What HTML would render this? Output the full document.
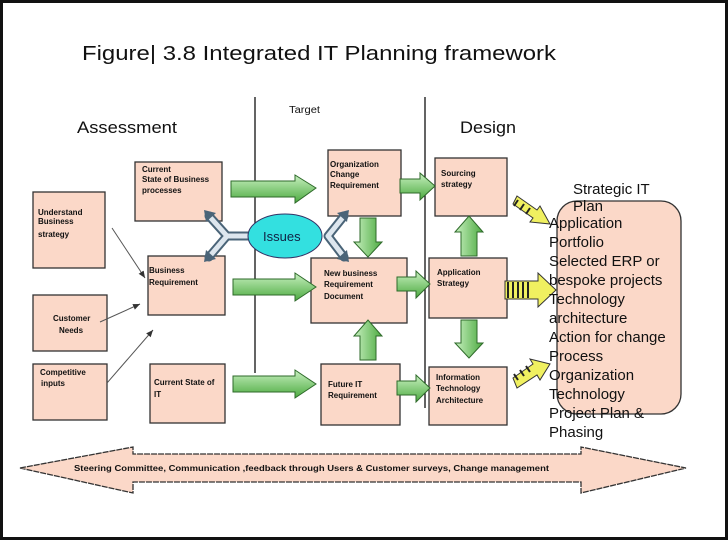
<!DOCTYPE html>
<html><head><meta charset="utf-8"><style>
html,body{margin:0;padding:0;background:#fff;}
svg{display:block;}
text{font-family:"Liberation Sans",sans-serif;}
.s{font-size:8px;font-weight:bold;fill:#111;}
.L{font-size:15px;fill:#111;}
</style></head><body>
<svg width="728" height="546" viewBox="0 0 728 546" xmlns="http://www.w3.org/2000/svg">
<defs>
<linearGradient id="g" x1="0" y1="0" x2="0" y2="1"><stop offset="0" stop-color="#c8f0c0"/><stop offset="1" stop-color="#4caa40"/></linearGradient>
<linearGradient id="gv" x1="0" y1="0" x2="1" y2="0"><stop offset="0" stop-color="#c8f0c0"/><stop offset="1" stop-color="#4caa40"/></linearGradient>
<linearGradient id="gr" x1="0" y1="0" x2="1" y2="0"><stop offset="0" stop-color="#e8eef4"/><stop offset="1" stop-color="#5a7890"/></linearGradient>
<marker id="ah" markerWidth="8" markerHeight="8" refX="7" refY="4" orient="auto"><path d="M0,1 L7,4 L0,7z" fill="#333"/></marker>
</defs>
<rect x="0" y="0" width="728" height="546" fill="#fff"/>
<rect x="1.5" y="1.5" width="725" height="537" fill="none" stroke="#111" stroke-width="3"/>

<text x="82" y="60" font-size="20" textLength="474" lengthAdjust="spacingAndGlyphs" fill="#111">Figure| 3.8 Integrated IT Planning framework</text>
<text x="77" y="133" font-size="17" textLength="100" lengthAdjust="spacingAndGlyphs" fill="#111">Assessment</text>
<text x="289" y="113" font-size="10" fill="#111" textLength="31" lengthAdjust="spacingAndGlyphs">Target</text>
<text x="460" y="133" font-size="17" textLength="56" lengthAdjust="spacingAndGlyphs" fill="#111">Design</text>

<line x1="255" y1="97" x2="255" y2="373" stroke="#111" stroke-width="1.3"/>
<line x1="425" y1="97" x2="425" y2="408" stroke="#111" stroke-width="1.3"/>

<g fill="#fbd8c8" stroke="#333" stroke-width="1.3">
<rect x="33" y="192" width="72" height="76"/>
<rect x="33" y="295" width="74" height="56"/>
<rect x="33" y="364" width="74" height="56"/>
<rect x="135" y="162" width="87" height="59"/>
<rect x="148" y="256" width="77" height="59"/>
<rect x="150" y="364" width="75" height="59"/>
<rect x="328" y="150" width="73" height="66"/>
<rect x="311" y="258" width="96" height="65"/>
<rect x="321" y="364" width="79" height="61"/>
<rect x="435" y="158" width="72" height="58"/>
<rect x="429" y="258" width="78" height="60"/>
<rect x="429" y="367" width="78" height="58"/>
<rect x="557" y="201" width="124" height="213" rx="20"/>
</g>

<g class="s">
<text x="38" y="215">Understand</text><text x="38" y="224">Business</text><text x="38" y="237">strategy</text>
<text x="53" y="321">Customer</text><text x="59" y="333">Needs</text>
<text x="40" y="375">Competitive</text><text x="41" y="386">inputs</text>
<text x="142" y="172">Current</text><text x="142" y="182">State of Business</text><text x="142" y="193">processes</text>
<text x="149" y="273">Business</text><text x="149" y="285">Requirement</text>
<text x="154" y="385">Current State of</text><text x="154" y="397">IT</text>
<text x="330" y="167">Organization</text><text x="330" y="177">Change</text><text x="330" y="188">Requirement</text>
<text x="324" y="276">New business</text><text x="324" y="287">Requirement</text><text x="324" y="299">Document</text>
<text x="328" y="387">Future IT</text><text x="328" y="398">Requirement</text>
<text x="441" y="176">Sourcing</text><text x="441" y="187">strategy</text>
<text x="437" y="275">Application</text><text x="437" y="286">Strategy</text>
<text x="436" y="380">Information</text><text x="436" y="391">Technology</text><text x="436" y="403">Architecture</text>
</g>

<!-- thin arrows -->
<g stroke="#555" stroke-width="1" marker-end="url(#ah)">
<line x1="112" y1="228" x2="145" y2="278"/>
<line x1="100" y1="322" x2="140" y2="304"/>
<line x1="107" y1="383" x2="153" y2="330"/>
</g>

<!-- green horizontal arrows -->
<g stroke="#2e6a2a" stroke-width="1" fill="url(#g)">
<path d="M231,181 H295 V175 L316,188 L295,203 V197 H231z"/>
<path d="M233,279 H295 V273 L316,287 L295,301 V295 H233z"/>
<path d="M233,376 H295 V370 L316,384 L295,398 V392 H233z"/>
<path d="M400,179 H420 V173 L435,186 L420,200 V193 H400z"/>
<path d="M397,277 H416 V271 L430,284 L416,298 V291 H397z"/>
<path d="M397,381 H416 V375 L430,388 L416,402 V395 H397z"/>
</g>
<g stroke="#2e6a2a" stroke-width="1" fill="url(#gv)">
<path d="M360,218 V242 H354 L368,257 L382,242 H376 V218z"/>
<path d="M360,360 V336 H354 L368,320 L382,336 H376 V360z"/>
<path d="M461,256 V232 H455 L469,216 L483,232 H477 V256z"/>
<path d="M461,320 V343 H455 L469,358 L483,343 H477 V320z"/>
</g>

<!-- gray Y arrows -->
<g fill="none" stroke-linecap="round" stroke-linejoin="round">
<path d="M209,216 L227,236 L209,257 M227,236 H248" stroke="#4a6478" stroke-width="9"/>
<path d="M209,216 L227,236 L209,257 M227,236 H248" stroke="#dde6ee" stroke-width="5"/>
<path d="M344,216 L328,236 L344,257" stroke="#4a6478" stroke-width="9"/>
<path d="M344,216 L328,236 L344,257" stroke="#dde6ee" stroke-width="5"/>
</g>
<g fill="#4a6478">
<path d="M204,210 L216,213 L206,222z"/><path d="M204,262 L216,259 L206,250z"/>
<path d="M349,210 L337,213 L347,222z"/><path d="M349,262 L337,259 L347,250z"/>
</g>

<ellipse cx="285" cy="236" rx="37" ry="22" fill="#33e0e0" stroke="#336" stroke-width="1"/>
<text x="263" y="241" font-size="13" fill="#124">Issues</text>

<!-- yellow striped arrows -->
<g stroke="#333" stroke-width="1">
<path d="M517,196 L537,210 L540,206 L550,224 L530,222 L533,218 L513,204z" fill="#f0f060"/>
<path d="M505,281 H538 V273 L556,290 L538,307 V299 H505z" fill="#f0f060"/>
<path d="M513,378 L533,364 L530,359 L550,364 L540,380 L537,375 L517,388z" fill="#f0f060"/>
</g>
<g stroke="#222" stroke-width="2">
<line x1="518" y1="200" x2="514" y2="206"/><line x1="524" y1="204" x2="520" y2="210"/><line x1="530" y1="208" x2="526" y2="214"/>
<line x1="508" y1="282" x2="508" y2="298"/><line x1="513" y1="282" x2="513" y2="298"/><line x1="518" y1="282" x2="518" y2="298"/><line x1="523" y1="282" x2="523" y2="298"/><line x1="528" y1="282" x2="528" y2="298"/>
<line x1="518" y1="380" x2="514" y2="374"/><line x1="524" y1="376" x2="520" y2="370"/><line x1="530" y1="372" x2="526" y2="366"/>
</g>

<text x="573" y="194" font-size="15" fill="#111">Strategic IT</text>
<text x="573" y="211" font-size="15" fill="#111">Plan</text>
<g class="L">
<text x="549" y="228">Application</text>
<text x="549" y="247">Portfolio</text>
<text x="549" y="266">Selected ERP or</text>
<text x="549" y="285">bespoke projects</text>
<text x="549" y="304">Technology</text>
<text x="549" y="323">architecture</text>
<text x="549" y="342">Action for change</text>
<text x="549" y="361">Process</text>
<text x="549" y="380">Organization</text>
<text x="549" y="399">Technology</text>
<text x="549" y="418">Project Plan &amp;</text>
<text x="549" y="437">Phasing</text>
</g>

<path d="M20,468 L133,447 V454 H581 V447 L686,468 L581,493 V482 H133 V493z" fill="#fbd8c8" stroke="#333" stroke-width="1.3" stroke-dasharray="6,1"/>
<text x="74" y="471" class="s" textLength="475" lengthAdjust="spacingAndGlyphs">Steering Committee, Communication ,feedback through Users &amp; Customer surveys, Change management</text>
</svg>
</body></html>
